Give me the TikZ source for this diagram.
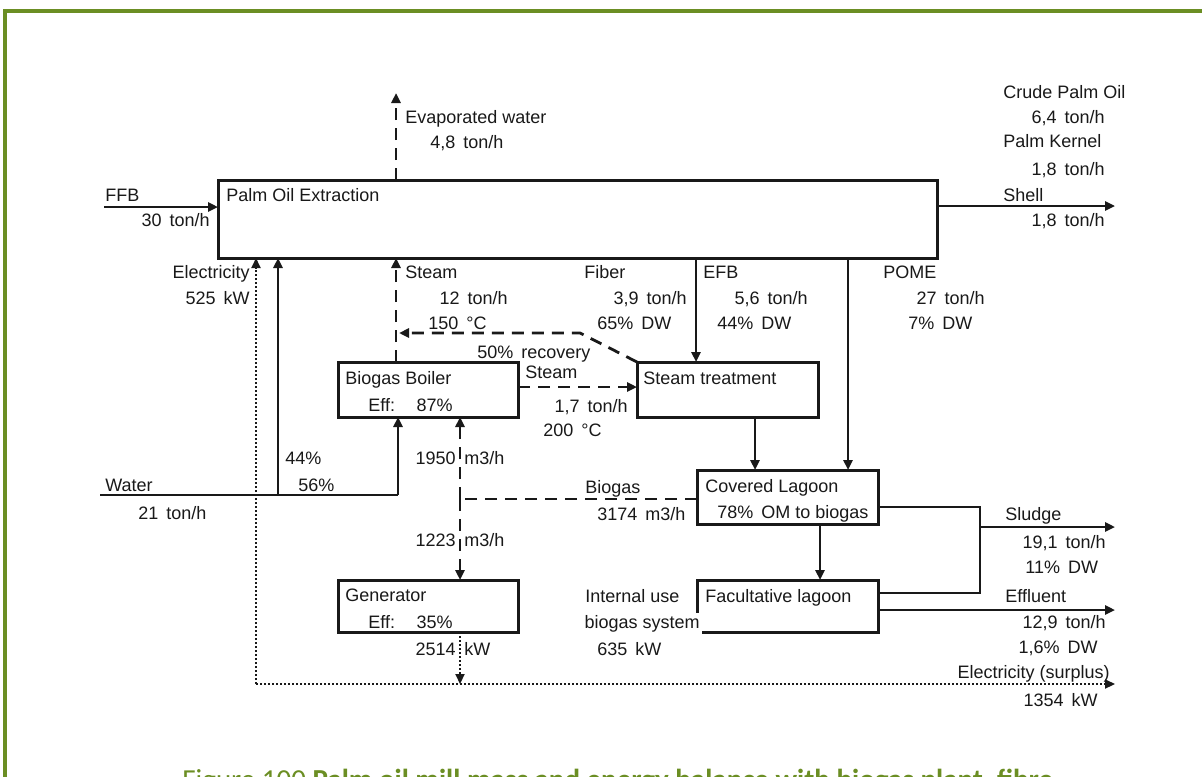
\documentclass[tikz,border=0pt]{standalone}
\usepackage{fontspec}
\setmainfont{Liberation Sans}
\newfontfamily\capfont{Carlito}
\usetikzlibrary{arrows.meta}
\definecolor{frame}{RGB}{107,142,35}
\definecolor{ink}{RGB}{25,25,25}
\begin{document}
\begin{tikzpicture}[x=0.5pt,y=-0.5pt,
  font=\fontsize{9}{10}\selectfont,
  box/.style={draw=ink,line width=1.5pt,inner sep=0pt,outer sep=0pt,anchor=north west},
  lbl/.style={text=ink,inner sep=0pt,anchor=base west},
  rlbl/.style={text=ink,inner sep=0pt,anchor=base east},
  tip/.style={-{Triangle[length=5pt,width=4.5pt]}},
  flow/.style={draw=ink,line width=1.4pt},
  arr/.style={flow,tip},
  dflow/.style={draw=ink,line width=1.4pt,dash pattern=on 6pt off 4pt},
  darr/.style={dflow,tip},
  eflow/.style={draw=ink,line width=1pt,dash pattern=on 1pt off 1pt},
  earr/.style={eflow,tip}]
\useasboundingbox (0,0) rectangle (1202,776);
\fill[white] (0,0) rectangle (1202,776);
% frame
\draw[frame,line width=1.6pt] (5,790) -- (5,11) -- (1210,11);

% boxes
\node[box,minimum width=359.5pt,minimum height=39pt] (poe) at (218,180) {};
\node[box,minimum width=90pt,minimum height=27.5pt] (boiler) at (338,362) {};
\node[box,minimum width=90.5pt,minimum height=27.5pt] (steamt) at (637,362) {};
\node[box,minimum width=90.5pt,minimum height=27pt] (covered) at (697,470) {};
\node[box,minimum width=90.5pt,minimum height=26pt] (facult) at (697,580) {};
\node[box,minimum width=90pt,minimum height=26pt] (gen) at (338,580) {};

% box texts
\node[lbl] (tpoe) at (226,201) {Palm Oil Extraction};
\node[lbl] (tboil1) at (345,384) {Biogas Boiler};
\node[lbl] (tboil2) at (368,411) {Eff:\hspace{1.2em}87\%};
\node[lbl] (tst) at (643,384) {Steam treatment};
\node[lbl] (tcov1) at (705,492) {Covered Lagoon};
\node[lbl] (tcov2) at (717,518) {78\% \,OM to biogas};
\node[lbl] (tfac) at (705,602) {Facultative lagoon};
\node[lbl] (tgen1) at (345,601) {Generator};
\node[lbl] (tgen2) at (368,628) {Eff:\hspace{1.2em}35\%};

% coordinates
\coordinate (ffb) at (104,207);
\coordinate (evap) at (396,93);
\coordinate (prod) at (1115,206);
\coordinate (pome) at (848,0);
\coordinate (efb) at (696,0);
\coordinate (stm) at (396,0);
\coordinate (rec1) at (580,333);
\coordinate (rec2) at (399,333);
\coordinate (stm2) at (0,387);
\coordinate (stc) at (755,0);
\coordinate (cf) at (820,0);
\coordinate (sl1) at (980,507);
\coordinate (sl2) at (980,593);
\coordinate (slo) at (980,527);
\coordinate (sle) at (1115,527);
\coordinate (eff) at (1115,610);
\coordinate (el0) at (256,684);
\coordinate (el1) at (1115,684);
\coordinate (w0) at (100,495);
\coordinate (w1) at (398,495);
\coordinate (w2) at (278,495);
\coordinate (bg1) at (460,499);
\coordinate (bgx) at (460,0);

% connectors
\draw[arr] (ffb) -- (ffb -| poe.west);
\draw[darr] (evap |- poe.north) -- (evap);
\draw[arr] (prod -| poe.east) -- (prod);
\draw[arr] (pome |- poe.south) -- (pome |- covered.north);
\draw[arr] (efb |- poe.south) -- (efb |- steamt.north);
\draw[darr] (stm |- boiler.north) -- (stm |- poe.south);
\draw[darr] (steamt.north west) -- (rec1) -- (rec2);
\draw[darr] (stm2 -| boiler.east) -- (stm2 -| steamt.west);
\draw[arr] (stc |- steamt.south) -- (stc |- covered.north);
\draw[arr] (cf |- covered.south) -- (cf |- facult.north);
\draw[flow] (sl1 -| covered.east) -- (sl1) -- (sl2) -- (sl2 -| facult.east);
\draw[arr] (slo) -- (sle);
\draw[arr] (eff -| facult.east) -- (eff);
\draw[earr] (el0) -- (el0 |- poe.south);
\draw[earr] (el0) -- (el1);
\draw[flow] (w0) -- (w1);
\draw[arr] (w1) -- (w1 |- boiler.south);
\draw[arr] (w2) -- (w2 |- poe.south);
\draw[dflow] (bg1 -| covered.west) -- (bg1);
\draw[darr] (bg1) -- (bgx |- boiler.south);
\draw[darr] (bg1) -- (bgx |- gen.north);
\draw[earr] (bgx |- gen.south) -- (bgx |- el0);

% labels
\node[lbl] (lffb) at (105,201) {FFB};
\node[rlbl] (lffb2) at (210,226) {30 \,ton/h};
\node[lbl] (levap) at (405,123) {Evaporated water};
\node[lbl] (levap2) at (430,148) {4,8 \,ton/h};
\node[lbl] (lcpo) at (1003,98) {Crude Palm Oil};
\node[rlbl] (lcpo2) at (1105,123) {6,4 \,ton/h};
\node[lbl] (lpk) at (1003,147) {Palm Kernel};
\node[rlbl] (lpk2) at (1105,175) {1,8 \,ton/h};
\node[lbl] (lsh) at (1003,201) {Shell};
\node[rlbl] (lsh2) at (1105,226) {1,8 \,ton/h};
\node[rlbl] (lel) at (250,278) {Electricity};
\node[rlbl] (lel2) at (250,304) {525 \,kW};
\node[lbl] (lst) at (405,278) {Steam};
\node[rlbl] (lst2) at (508,304) {12 \,ton/h};
\node[lbl] (lst3) at (428,329) {150 \,°C};
\node[lbl] (lfib) at (584,278) {Fiber};
\node[rlbl] (lfib2) at (687,304) {3,9 \,ton/h};
\node[lbl] (lfib3) at (597,329) {65\% \,DW};
\node[lbl] (lefb) at (703,278) {EFB};
\node[rlbl] (lefb2) at (808,304) {5,6 \,ton/h};
\node[lbl] (lefb3) at (717,329) {44\% \,DW};
\node[lbl] (lpome) at (883,278) {POME};
\node[rlbl] (lpome2) at (985,304) {27 \,ton/h};
\node[lbl] (lpome3) at (908,329) {7\% \,DW};
\node[lbl] (lrec) at (477,358) {50\% \,recovery};
\node[lbl] (lsb) at (525,378) {Steam};
\node[rlbl] (lsb2) at (628,412) {1,7 \,ton/h};
\node[lbl] (lsb3) at (543,436) {200 \,°C};
\node[lbl] (lw44) at (285,464) {44\%};
\node[lbl] (lw56) at (298,491) {56\%};
\node[lbl] (lw) at (105,491) {Water};
\node[lbl] (lw2) at (138,519) {21 \,ton/h};
\node[rlbl] (lb1) at (456,464) {1950};
\node[lbl] (lb1u) at (464,464) {m3/h};
\node[lbl] (lbg) at (585,493) {Biogas};
\node[lbl] (lbg2) at (597,520) {3174 \,m3/h};
\node[rlbl] (lb2) at (456,546) {1223};
\node[lbl] (lb2u) at (464,546) {m3/h};
\node[rlbl] (lgk) at (456,655) {2514};
\node[lbl] (lgku) at (464,655) {kW};
\node[lbl] (liu) at (585,602) {Internal use};
\node[lbl,fill=white,inner sep=1pt,anchor=base east] (liu2) at (702,628) {biogas system};
\node[lbl] (liu3) at (597,655) {635 \,kW};
\node[lbl] (lsl) at (1005,520) {Sludge};
\node[rlbl] (lsl2) at (1106,548) {19,1 \,ton/h};
\node[lbl] (lsl3) at (1025,573) {11\% \,DW};
\node[lbl] (lef) at (1005,602) {Effluent};
\node[rlbl] (lef2) at (1106,628) {12,9 \,ton/h};
\node[rlbl] (lef3) at (1098,653) {1,6\% \,DW};
\node[rlbl] (les) at (1110,678) {Electricity (surplus)};
\node[rlbl] (les2) at (1098,706) {1354 \,kW};

% caption (cut off at the bottom edge, as in the reference)
\node[anchor=north west,inner sep=0pt,text=frame,font=\capfont\fontsize{14.5}{16}\selectfont] (cap) at (182,769)
  {Figure 100 \textbf{Palm oil mill mass and energy balance with biogas plant, fibre}};
\end{tikzpicture}
\end{document}
